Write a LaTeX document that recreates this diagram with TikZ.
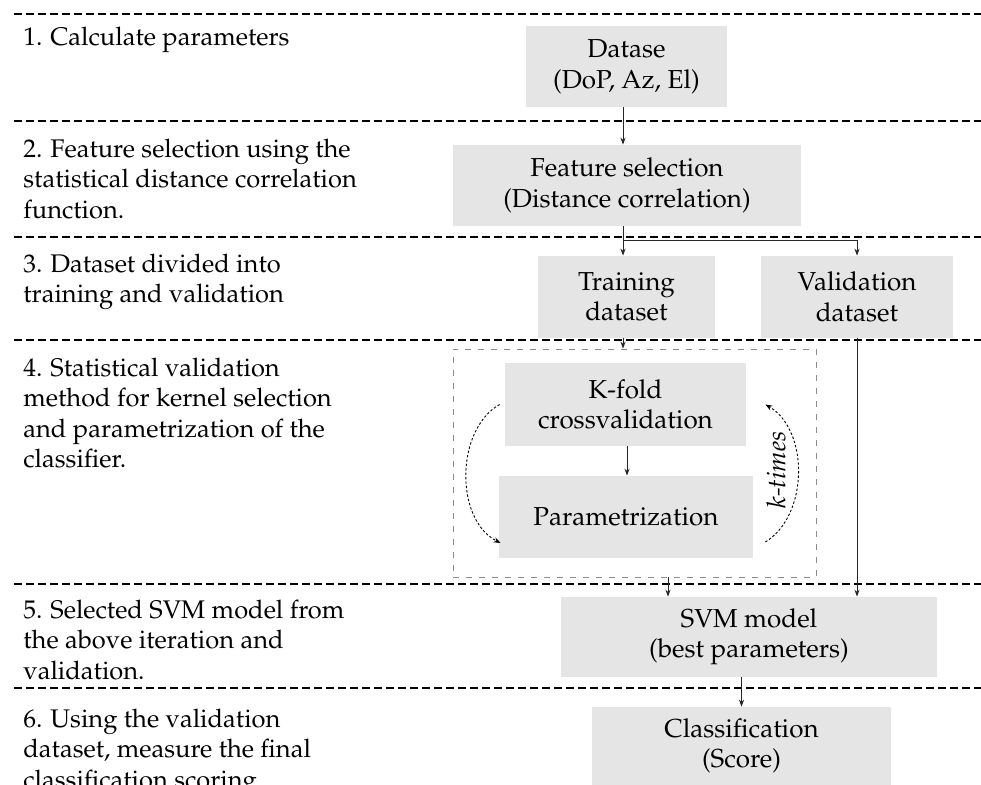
\documentclass[tikz,border=0pt]{standalone}
\usepackage[T1]{fontenc}
\usepackage{mathpazo}
\usetikzlibrary{arrows.meta,calc}
\definecolor{boxgray}{HTML}{E5E5E5}
\tikzset{
  box/.style={fill=boxgray, draw=none, inner sep=0pt, align=center, font=\fontsize{13}{15.25}\selectfont},
  sep/.style={draw=black, line width=0.6pt, dash pattern=on 4pt off 2pt},
  arr/.style={draw=black!85, line width=0.5pt, -{Stealth[length=3.5pt,width=2.6pt]}},
  looparr/.style={draw=black, line width=0.45pt, dash pattern=on 1.2pt off 1pt, -{Stealth[length=3.5pt,width=2.6pt]}},
  loopbox/.style={draw=black!45, line width=0.4pt, dash pattern=on 3pt off 3.5pt, inner sep=0pt},
  steptext/.style={anchor=north west, inner sep=0pt, align=left, font=\fontsize{12.75}{15.25}\selectfont},
}
\begin{document}
\begin{tikzpicture}[x=0.5pt,y=-0.5pt]
\useasboundingbox (0,0) rectangle (981,785);
% separators
\draw[sep] (14,14) -- (981,14);
\draw[sep] (14,121) -- (981,121);
\draw[sep] (14,237) -- (981,237);
\draw[sep] (14,340) -- (981,340);
\draw[sep] (14,584) -- (981,584);
\draw[sep] (14,688) -- (981,688);
% step texts
\node[steptext] (t1) at (23,23.6) {\strut 1. Calculate parameters};
\node[steptext] (t2) at (23,135.6) {\strut 2. Feature selection using the\\statistical distance correlation\\function.};
\node[steptext] (t3) at (23,250.6) {\strut 3. Dataset divided into\\training and validation};
\node[steptext] (t4) at (23,354.6) {\strut 4. Statistical validation\\method for kernel selection\\and parametrization of the\\classifier.};
\node[steptext] (t5) at (23,596.6) {\strut 5. Selected SVM model from\\the above iteration and\\validation.};
\node[steptext] (t6) at (23,705.6) {\strut 6. Using the validation\\dataset, measure the final\\classification scoring.};
% boxes
\node[box, minimum width=100.5pt, minimum height=40.5pt] (dat) at (626.5,66.5) {Datase\\(DoP, Az, El)};
\node[box, minimum width=174pt, minimum height=40.5pt] (fs) at (627,185.5) {Feature selection\\(Distance correlation)};
\node[box, minimum width=88.5pt, minimum height=41pt] (tr) at (626.5,297) {Training\\dataset};
\node[box, minimum width=96pt, minimum height=41pt] (va) at (857,297) {Validation\\dataset};
\node[loopbox, minimum width=181.5pt, minimum height=114pt] (loop) at (634.5,463) {};
\node[box, minimum width=120.5pt, minimum height=41.5pt] (kf) at (625.5,404.5) {K-fold\\crossvalidation};
\node[box, minimum width=127pt, minimum height=41pt] (par) at (626,517) {Parametrization};
\node[box, minimum width=188pt, minimum height=40pt] (svm) at (749,637) {SVM model\\(best parameters)};
\node[box, minimum width=149.5pt, minimum height=39pt] (cls) at (741.5,746) {Classification\\(Score)};
\node[rotate=90, inner sep=0pt, font=\fontsize{13}{15.25}\selectfont\itshape] (kt) at (776,470) {k-times};
% connectors
\coordinate (xa) at (623,0);
\coordinate (xb) at (627,0);
\coordinate (xc) at (668,0);
\coordinate (br) at (623,241);
\draw[arr] (dat.south -| xa) -- (fs.north -| xa);
\draw[arr] (fs.south -| xa) -- (tr.north -| xa);
\draw[arr] (br) -| (va.north);
\draw[arr] (tr.south -| xa) -- (loop.north -| xa);
\draw[arr] (kf.south -| xb) -- (par.north -| xb);
\draw[arr] (loop.south -| xc) -- (svm.north -| xc);
\draw[arr] (va.south) -- (va.south |- svm.north);
\draw[arr] (svm.south -| cls.north) -- (cls.north);
% loop arrows
\draw[looparr] ($(kf.west)+(-5,0)$) .. controls (455,430) and (455,520) .. ($(par.west)+(2,26)$);
\draw[looparr] ($(par.east)+(12,25)$) .. controls (809,515) and (809,430) .. ($(kf.east)+(19,0)$);
\end{tikzpicture}
\end{document}
